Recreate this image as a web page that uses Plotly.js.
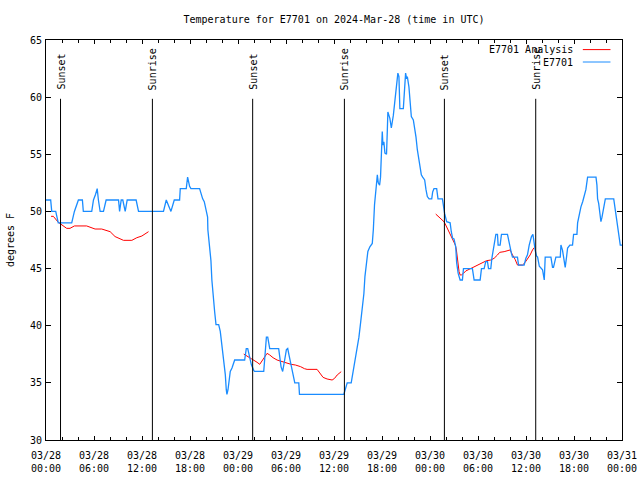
<!DOCTYPE html>
<html>
<head>
<meta charset="utf-8">
<script src="https://cdn.plot.ly/plotly-3.0.1.min.js"></script>
<style>html,body{margin:0;padding:0;background:#fff;}#chart{width:640px;height:480px;}</style>
</head>
<body>
<div id="chart"></div>
<script>
// ---- data (hours since 2024-03-28 00:00 UTC, temperature in degrees F) ----
const obsHours = [0.0,0.58,0.71,1.21,1.54,3.21,3.55,4.05,4.55,4.67,5.72,5.93,6.2,6.4,6.55,6.76,7.18,7.51,9.06,9.2,9.4,9.6,9.9,10.15,11.27,11.56,14.69,15.03,15.61,16.03,16.7,16.78,17.53,17.7,17.95,18.12,19.2,19.37,19.58,19.78,19.99,20.2,20.24,20.45,20.62,20.74,20.87,21.08,21.25,21.58,21.79,21.91,22.08,22.21,22.33,22.41,22.54,22.62,22.75,22.92,23.04,23.25,23.46,23.58,24.83,25.04,25.21,25.42,25.54,25.67,25.96,26.09,27.21,27.34,27.55,27.72,27.84,27.97,29.09,29.22,29.39,29.59,29.72,29.84,30.05,30.22,30.39,30.55,30.76,30.97,31.1,31.6,31.68,37.23,37.44,37.65,38.15,38.4,38.57,38.69,38.9,39.11,39.32,39.53,39.74,39.86,40.03,40.24,40.49,40.78,40.91,41.07,41.28,41.41,41.53,41.7,41.82,41.91,42.03,42.12,42.24,42.37,42.57,42.66,42.74,42.87,42.99,43.16,43.28,43.41,43.58,43.7,43.91,43.99,44.12,44.2,44.24,44.66,44.74,44.83,44.95,45.08,45.16,45.37,45.5,45.66,45.91,46.08,46.25,46.42,46.58,46.75,46.92,47.08,47.33,47.5,47.67,47.88,48.21,48.33,48.5,48.84,49.0,49.55,49.67,49.84,50.09,50.51,50.67,50.84,51.0,51.21,51.34,51.51,51.76,52.05,52.18,53.3,53.51,54.26,54.43,54.76,54.97,55.18,55.31,55.6,55.73,55.93,56.1,56.23,56.43,56.52,56.77,56.93,57.68,57.81,58.02,58.19,58.31,58.94,59.06,59.77,59.98,60.19,60.4,60.69,60.86,61.02,61.15,61.32,61.45,61.66,61.86,62.07,62.28,62.4,63.11,63.32,63.44,63.65,63.74,64.28,64.36,64.57,64.78,64.9,65.07,65.2,65.49,65.82,65.95,66.37,66.45,66.66,66.87,67.08,67.29,67.49,67.7,68.75,68.87,68.95,69.08,69.25,69.37,69.5,69.62,69.79,69.91,70.96,71.13,71.29,71.46,71.63,71.79,72.0];
const obsTemps = [51,51,50,50,49,49,50,51,51,50,50,51,51.5,52,51,50,50,51,51,50,51,51,50,51,51,50,50,51,50,51,51,52,52,53,52.2,52,52,51.6,51.1,50.85,50.2,49.5,48.4,47.1,45.7,44.0,42.7,41.2,40.1,40.1,39.5,38.6,37.9,37.15,36.4,35.7,34.4,34.0,34.4,35.25,36.0,36.3,36.85,37,37,38,38,37.3,36.85,36.6,36.1,36,36,37.3,39,39,38.5,38,38,37,36.4,36,36.4,37,37.9,38,37.4,36.85,36.1,35.7,35,35,34,34,34.5,35,35,36,36.7,37.3,38.2,39,40.2,41.4,42.8,44.3,45.5,46.5,46.9,47.2,48.4,50.6,52.2,53.2,52.5,52.3,53.0,54.9,57.0,55.8,56.1,55.1,55.0,57.1,58.7,58.4,58.15,57.3,57.7,58.4,59.5,60.3,61.5,62.1,61.8,59.75,59.0,59.0,60.0,61.5,62.1,61.6,61.8,60.9,59.75,58.3,58.0,57.3,56.5,55.4,54.5,53.9,53.2,53.0,52.75,51.9,51.3,51.1,51.1,51.7,52,52,51.1,51.1,50.4,49.8,49.1,49.0,48.2,47.65,47.6,46.9,45.5,44.6,44,44,45,45,44,44,45,45,45.6,45.6,45,45,45.9,46.9,47.35,48,48,47.06,47.06,48,48,47.5,46.9,46.3,46,46,45.3,45.3,45.9,46.2,47.06,47.8,48,47.06,46.6,46.1,46,45.2,45,44.9,44,46,46,45.1,45.1,45.75,46,46,47.06,46.6,45.8,45.1,46,46.8,47.06,47.06,48,48,49,49.8,50.4,50.85,51.4,51.9,53,53,52.3,51.1,50.7,49.7,49.1,49.5,49.98,50.7,51.1,51.1,50.3,49.4,48.7,47.9,47.06,47.06];

const anaHours = [0.63,0.92,1.54,2.09,2.59,3.0,3.55,5.09,5.51,6.14,6.97,7.39,8.01,8.64,9.27,9.68,10.73,11.35,11.98,12.4,12.81,null,
  24.71,25.13,25.54,26.05,26.38,26.71,27.01,27.3,27.63,27.97,28.38,28.88,29.3,29.72,30.14,30.64,31.18,31.81,32.31,32.64,33.89,34.31,34.64,35.14,35.77,36.06,36.4,36.9,null,
  48.71,49.0,49.34,49.55,49.75,49.96,50.17,50.38,50.5,50.67,50.88,51.0,51.17,51.3,51.42,51.63,51.76,51.92,52.18,52.47,52.89,53.3,53.72,54.01,54.35,54.68,55.06,55.6,56.01,56.43,56.72,57.27,57.68,58.02,58.31,58.64,58.94,59.56,59.86,60.19,60.52,60.81,61.02];
const anaTemps = [49.57,49.57,49.05,48.73,48.52,48.52,48.73,48.73,48.6,48.46,48.46,48.35,48.23,47.8,47.6,47.47,47.47,47.7,47.85,48.05,48.23,null,
  37.52,37.35,37.15,36.94,36.8,36.62,36.94,37.29,37.58,37.44,37.2,37.0,36.91,36.85,36.71,36.62,36.56,36.42,36.24,36.18,36.18,35.83,35.48,35.34,35.25,35.39,35.69,35.98,null,
  49.77,49.6,49.4,49.19,49.1,48.81,48.52,48.23,47.94,47.73,47.5,47.35,47.06,46.63,45.81,44.73,44.44,44.44,44.58,44.79,44.93,45.08,45.23,45.31,45.46,45.6,45.69,45.75,45.9,46.19,46.42,46.48,46.57,46.63,46.19,45.81,45.31,45.31,45.52,45.81,46.19,46.63,46.83];

const sunTimes  = ['2024-03-28 01:49','2024-03-28 13:18','2024-03-29 01:50','2024-03-29 13:18','2024-03-30 01:48','2024-03-30 13:13'];
const sunLabels = ['Sunset','Sunrise','Sunset','Sunrise','Sunset','Sunrise'];
const seriesNames = ['E7701 Analysis','E7701'];
const titleText = 'Temperature for E7701 on 2024-Mar-28 (time in UTC)';
const xRange = ['2024-03-28 00:00','2024-03-31 00:00'];
const yRange = [30,65];

// ---- helpers ----
const baseMs = Date.UTC(2024,2,28);
function toTime(h){
  if(h===null) return null;
  const d = new Date(baseMs + Math.round(h*60)*60000);
  return d.toISOString().slice(0,16).replace('T',' ');
}
const FONT = 'DejaVu Sans Mono';
const RED = '#ff0000', BLUE = '#1a8cff';

const traces = [
  {x: anaHours.map(toTime), y: anaTemps, name: seriesNames[0], type:'scatter', mode:'lines',
   line:{color:RED, width:1}, connectgaps:false},
  {x: obsHours.map(toTime), y: obsTemps, name: seriesNames[1], type:'scatter', mode:'lines',
   line:{color:BLUE, width:1.3}}
];

const shapes = sunTimes.map(t => ({type:'line', xref:'x', yref:'paper', x0:t, x1:t, y0:0, y1:0.853,
  line:{color:'#000', width:1}}));
const annotations = sunTimes.map((t,i) => ({xref:'x', yref:'paper', x:t, y:0.87, text:sunLabels[i],
  textangle:-90, showarrow:false, xanchor:'center', yanchor:'bottom', font:{family:FONT, size:10, color:'#000'}}));

// gnuplot-style key: text right-aligned, sample line to the right
const keyColors = [RED, BLUE];
const keyY = [0.976, 0.945];
seriesNames.forEach((n,i) => {
  annotations.push({xref:'paper', yref:'paper', x:0.918, y:keyY[i], text:n, showarrow:false,
    xanchor:'right', yanchor:'middle', font:{family:FONT, size:10, color:'#000'}});
  shapes.push({type:'line', xref:'paper', yref:'paper', x0:0.932, x1:0.98, y0:keyY[i], y1:keyY[i],
    line:{color:keyColors[i], width:1}});
});

const layout = {
  width:640, height:480,
  margin:{l:46, r:18, t:40, b:40},
  paper_bgcolor:'#fff', plot_bgcolor:'#fff',
  showlegend:false,
  font:{family:FONT, size:10, color:'#000'},
  title:{text:titleText, x:0.5, xref:'paper', y:0.96, yanchor:'middle', xanchor:'center', font:{family:FONT, size:10, color:'#000'}},
  xaxis:{type:'date', range:xRange, dtick:6*3600000, tick0:'2024-03-28 00:00', tickformat:'%m/%d<br>%H:%M',
    ticks:'inside', ticklen:4, tickcolor:'#000', showline:true, linecolor:'#000', linewidth:1, mirror:'allticks',
    showgrid:false, zeroline:false, ticklabelstandoff:6, tickfont:{family:FONT, size:10, color:'#000'},
    minor:{dtick:2*3600000, ticks:'inside', ticklen:3, tickcolor:'#000', showgrid:false}},
  yaxis:{range:yRange, dtick:5, ticks:'inside', ticklen:5, tickcolor:'#000', showline:true, linecolor:'#000',
    linewidth:1, mirror:'allticks', showgrid:false, zeroline:false, ticklabelstandoff:1, tickfont:{family:FONT, size:10, color:'#000'},
    title:{text:'degrees F', standoff:13, font:{family:FONT, size:10, color:'#000'}}},
  shapes:shapes, annotations:annotations
};

Plotly.newPlot('chart', traces, layout, {staticPlot:true, displayModeBar:false});
</script>
</body>
</html>
